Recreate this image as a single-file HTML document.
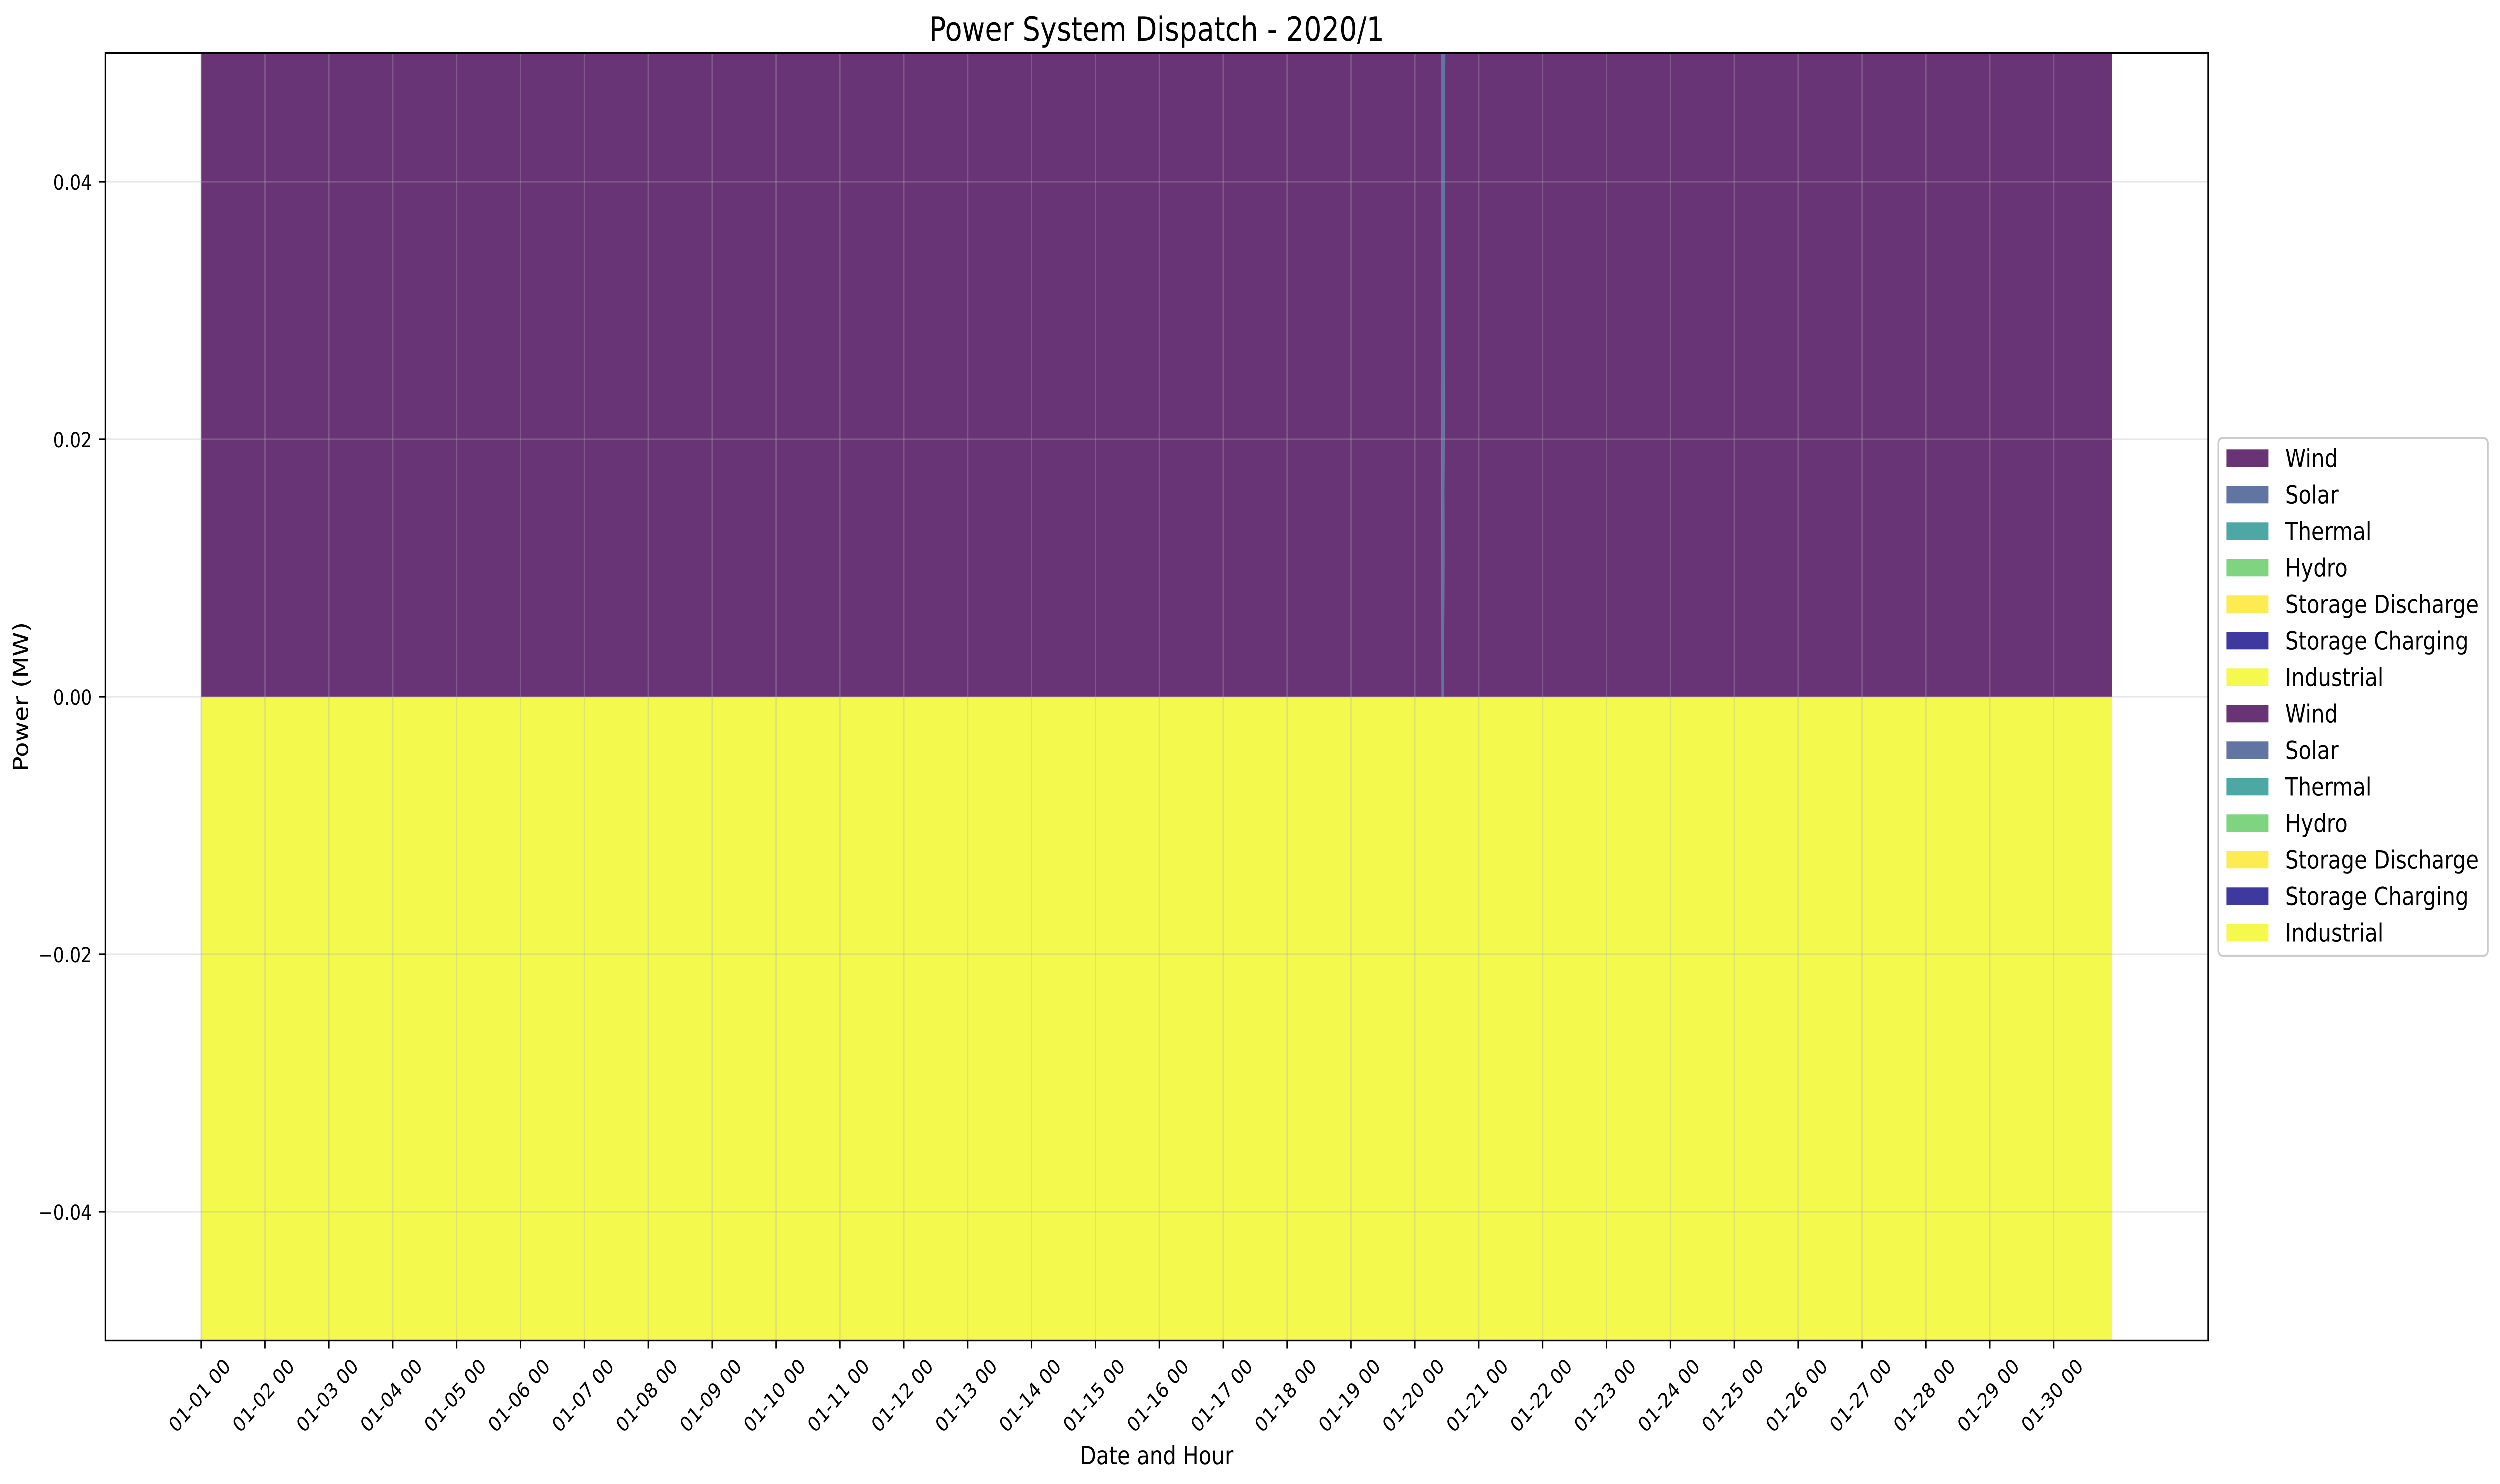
<!DOCTYPE html>
<html lang="en">
<head>
<meta charset="utf-8">
<title>Power System Dispatch - 2020/1</title>
<style>
html,body{margin:0;padding:0;background:#fff;width:100vw;height:100vh;overflow:hidden;}
svg{display:block;overflow:hidden;width:100vw;height:100vh;}
text{font-family:"DejaVu Sans","Liberation Sans",sans-serif;fill:#000;text-rendering:geometricPrecision;}
</style>
</head>
<body>
<svg id="chart" xmlns="http://www.w3.org/2000/svg" viewBox="0 0 5966 2968" preserveAspectRatio="none">
  <defs>
    <clipPath id="plot-clip"><rect x="252" y="106.5" width="5018" height="2575"></rect></clipPath>
  </defs>
  <rect x="0" y="0" width="5966" height="2968" fill="#ffffff"></rect>
  <g id="areas" clip-path="url(#plot-clip)"></g>
  <g id="grid"></g>
  <g id="ticks"></g>
  <rect x="252" y="106.5" width="5018" height="2575" fill="none" stroke="#000" stroke-width="3.33"></rect>
  <text x="2761" y="82" font-size="66.67" text-anchor="middle">Power System Dispatch - 2020/1</text>
  <text x="2761" y="2929" font-size="50" text-anchor="middle">Date and Hour</text>
  <text transform="translate(67.3 1394) rotate(-90)" font-size="50" text-anchor="middle">Power (MW)</text>
  <g id="legend">
    <rect x="5294.5" y="876.5" width="643" height="1035.5" rx="10" ry="10" fill="#ffffff" stroke="#cccccc" stroke-width="4.17"></rect>
  </g>
</svg>
<script>
// Chart data (values run off the axis in the picture, so they are read up to the visible limits)
const xTickLabels = ["01-01 00","01-02 00","01-03 00","01-04 00","01-05 00","01-06 00","01-07 00","01-08 00","01-09 00","01-10 00","01-11 00","01-12 00","01-13 00","01-14 00","01-15 00","01-16 00","01-17 00","01-18 00","01-19 00","01-20 00","01-21 00","01-22 00","01-23 00","01-24 00","01-25 00","01-26 00","01-27 00","01-28 00","01-29 00","01-30 00"];
const yTickValues = [0.04, 0.02, 0, -0.02, -0.04];
const yTickLabels = ["0.04", "0.02", "0.00", "\u22120.02", "\u22120.04"];
const hours = [0, 465.84, 466, 467, 467.43, 718];
const wind = [0.05, 0.05, 0, 0, 0.05, 0.05];
const solar = [0, 0, 0.05, 0.05, 0, 0];
const thermal = [0, 0, 0, 0, 0, 0];
const hydro = [0, 0, 0, 0, 0, 0];
const storageDischarge = [0, 0, 0, 0, 0, 0];
const storageCharging = [0, 0, 0, 0, 0, 0];
const industrial = [-0.05, -0.05, -0.05, -0.05, -0.05, -0.05];
const legendLabels = ["Wind", "Solar", "Thermal", "Hydro", "Storage Discharge", "Storage Charging", "Industrial", "Wind", "Solar", "Thermal", "Hydro", "Storage Discharge", "Storage Charging", "Industrial"];
const legendColors = ["#440154", "#3b528b", "#21918c", "#5ec962", "#fde725", "#0d0887", "#f0f921", "#440154", "#3b528b", "#21918c", "#5ec962", "#fde725", "#0d0887", "#f0f921"];

const SVG_NS = "http://www.w3.org/2000/svg";
const xAxis = function (hour) { return 480.5 + hour * 6.352; };
const yAxis = function (value) { return 1394 - value * 25750; };

function make(tag, parent) {
  const el = document.createElementNS(SVG_NS, tag);
  parent.appendChild(el);
  return el;
}

// Stacked areas
const areasGroup = document.getElementById("areas");
function drawStack(seriesList) {
  const base = hours.map(function () { return 0; });
  seriesList.forEach(function (s) {
    const top = base.map(function (b, i) { return b + s.values[i]; });
    const upper = hours.map(function (h, i) { return xAxis(h) + "," + yAxis(top[i]); });
    const lower = hours.map(function (h, i) { return xAxis(h) + "," + yAxis(base[i]); }).reverse();
    const poly = make("polygon", areasGroup);
    
    
    poly.setAttribute("points", upper.concat(lower).join(" "));
    poly.setAttribute("fill", s.color);
    poly.setAttribute("fill-opacity", "0.8");
    top.forEach(function (t, i) { base[i] = t; });
  });
}
drawStack([
  { key: "wind", values: wind, color: "#440154" },
  { key: "solar", values: solar, color: "#3b528b" },
  { key: "thermal", values: thermal, color: "#21918c" },
  { key: "hydro", values: hydro, color: "#5ec962" },
  { key: "storage-discharge", values: storageDischarge, color: "#fde725" }
]);
drawStack([
  { key: "storage-charging", values: storageCharging, color: "#0d0887" },
  { key: "industrial", values: industrial, color: "#f0f921" }
]);

// Grid and ticks
const gridGroup = document.getElementById("grid");
const ticksGroup = document.getElementById("ticks");
xTickLabels.forEach(function (label, i) {
  const x = xAxis(i * 24);
  const gridLine = make("line", gridGroup);
  
  
  gridLine.setAttribute("x1", x);
  gridLine.setAttribute("x2", x);
  gridLine.setAttribute("y1", 106.5);
  gridLine.setAttribute("y2", 2681.5);
  gridLine.setAttribute("stroke", "#b0b0b0");
  gridLine.setAttribute("stroke-opacity", "0.3");
  gridLine.setAttribute("stroke-width", "3.33");
  const tick = make("line", ticksGroup);
  
  
  tick.setAttribute("x1", x);
  tick.setAttribute("x2", x);
  tick.setAttribute("y1", 2681.5);
  tick.setAttribute("y2", 2697.5);
  tick.setAttribute("stroke", "#000");
  tick.setAttribute("stroke-width", "3.33");
  const text = make("text", ticksGroup);
  
  
  text.setAttribute("transform", "translate(" + (x - 4) + " 2791) rotate(-45)");
  text.setAttribute("y", "15");
  text.setAttribute("font-size", "41.67");
  text.setAttribute("text-anchor", "middle");
  text.textContent = label;
});
yTickValues.forEach(function (value, i) {
  const y = yAxis(value);
  const gridLine = make("line", gridGroup);
  
  
  gridLine.setAttribute("x1", 252);
  gridLine.setAttribute("x2", 5270);
  gridLine.setAttribute("y1", y);
  gridLine.setAttribute("y2", y);
  gridLine.setAttribute("stroke", "#b0b0b0");
  gridLine.setAttribute("stroke-opacity", "0.3");
  gridLine.setAttribute("stroke-width", "3.33");
  const tick = make("line", ticksGroup);
  
  
  tick.setAttribute("x1", 237);
  tick.setAttribute("x2", 252);
  tick.setAttribute("y1", y);
  tick.setAttribute("y2", y);
  tick.setAttribute("stroke", "#000");
  tick.setAttribute("stroke-width", "3.33");
  const text = make("text", ticksGroup);
  
  
  text.setAttribute("x", 220);
  text.setAttribute("y", y + 16);
  text.setAttribute("font-size", "41.67");
  text.setAttribute("text-anchor", "end");
  text.textContent = yTickLabels[i];
});

// Legend
const legendGroup = document.getElementById("legend");
legendLabels.forEach(function (label, i) {
  const rowTop = 899.3 + i * 73;
  const swatch = make("rect", legendGroup);
  
  
  swatch.setAttribute("x", 5313.8);
  swatch.setAttribute("y", rowTop);
  swatch.setAttribute("width", 100.2);
  swatch.setAttribute("height", 35);
  swatch.setAttribute("fill", legendColors[i]);
  swatch.setAttribute("fill-opacity", "0.8");
  const text = make("text", legendGroup);
  
  
  text.setAttribute("x", 5454);
  text.setAttribute("y", rowTop + 35);
  text.setAttribute("font-size", "50");
  text.textContent = label;
});
</script>
</body>
</html>
